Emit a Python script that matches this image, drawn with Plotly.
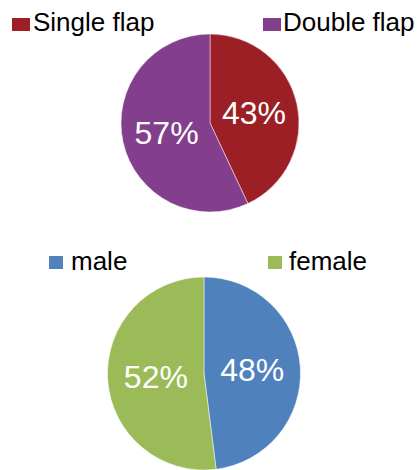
import plotly.graph_objects as go

W, H = 419, 470

flap_labels = ["Single flap", "Double flap"]
flap_values = [43, 57]
flap_colors = ["#9B1F24", "#833E8E"]

sex_labels = ["male", "female"]
sex_values = [48, 52]
sex_colors = ["#4F81BD", "#9BBB59"]

FONT = "Liberation Sans, Arial, Helvetica, sans-serif"


def px_x(x):
    return x / W


def px_y(y):
    return 1 - y / H


fig = go.Figure()

# top pie: centre (210,123), r 89
fig.add_trace(go.Pie(
    labels=flap_labels, values=flap_values, sort=False, direction="clockwise", rotation=0,
    marker=dict(colors=flap_colors, line=dict(color="rgba(255,255,255,0.6)", width=0.8)),
    textinfo="percent", texttemplate="%{percent:.0%}", textposition="inside",
    insidetextorientation="horizontal",
    textfont=dict(color="white", size=32, family=FONT),
    domain=dict(x=[px_x(121), px_x(299)], y=[px_y(212), px_y(34)]),
    showlegend=False, hoverinfo="label+percent",
))

# bottom pie: centre (204,~374), r ~97
fig.add_trace(go.Pie(
    labels=sex_labels, values=sex_values, sort=False, direction="clockwise", rotation=0,
    marker=dict(colors=sex_colors, line=dict(color="rgba(255,255,255,0.6)", width=0.8)),
    textinfo="percent", texttemplate="%{percent:.0%}", textposition="inside",
    insidetextorientation="horizontal",
    textfont=dict(color="white", size=32, family=FONT),
    domain=dict(x=[px_x(106), px_x(302)], y=[0, px_y(277)]),
    showlegend=False, hoverinfo="label+percent",
))

# legends drawn as squares + text
legend_specs = [
    (flap_labels, flap_colors, [(12, 18, 30, 31, 33), (263, 18, 281, 31, 283)], 22),
    (sex_labels, sex_colors, [(49, 256, 63, 269, 71), (268, 256, 282, 269, 289)], 261),
]
shapes = []
annotations = []
for labels, colors, boxes, ymid in legend_specs:
    for lab, col, (x0, y0, x1, y1, tx) in zip(labels, colors, boxes):
        shapes.append(dict(type="rect", xref="paper", yref="paper",
                           x0=px_x(x0), x1=px_x(x1), y0=px_y(y1), y1=px_y(y0),
                           fillcolor=col, line=dict(width=0)))
        annotations.append(dict(text=lab, xref="paper", yref="paper",
                                x=px_x(tx - 2), y=px_y(ymid), xanchor="left", yanchor="middle",
                                showarrow=False, font=dict(size=26, color="black", family=FONT)))

fig.update_layout(
    width=W, height=H, margin=dict(l=0, r=0, t=0, b=0),
    paper_bgcolor="white", plot_bgcolor="white",
    shapes=shapes, annotations=annotations, showlegend=False,
)

fig.write_html("out.html")
